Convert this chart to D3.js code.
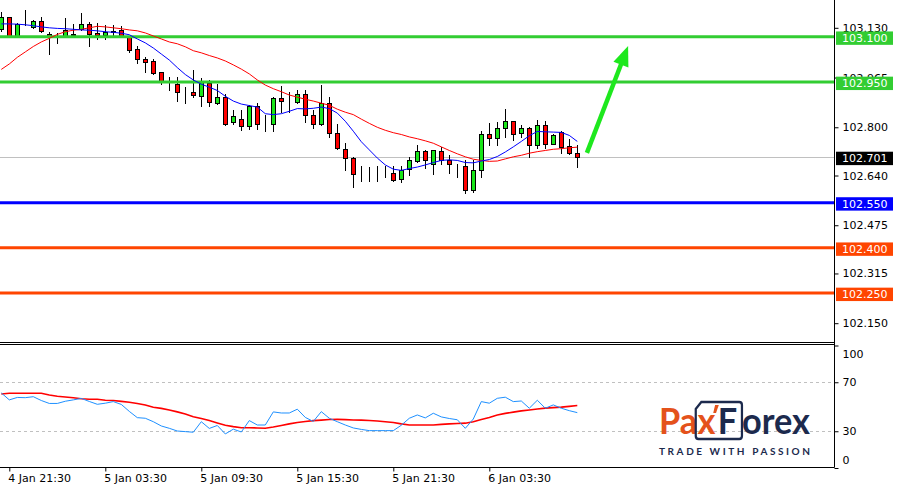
<!DOCTYPE html>
<html><head><meta charset="utf-8">
<script src="https://cdn.jsdelivr.net/npm/d3@7"></script>
<style>body{margin:0;background:#fff} svg{display:block}</style>
</head><body>
<svg id="c" width="898" height="485"></svg>
<script>
// ---------- DATA (30-minute candles, 4 Jan 21:00 -> 6 Jan 09:00) ----------
const open = [103.126,103.166,103.104,103.142,103.134,103.152,103.110,103.107,103.104,103.108,
103.126,103.143,103.114,103.106,103.115,103.122,103.100,103.059,103.026,103.019,
102.983,102.955,102.945,102.915,102.916,102.904,102.946,102.879,102.902,102.816,
102.829,102.804,102.870,102.812,102.812,102.896,102.890,102.885,102.912,102.840,
102.810,102.879,102.782,102.729,102.699,102.643,102.643,102.643,102.649,102.649,
102.629,102.662,102.688,102.721,102.677,102.720,102.692,102.679,102.673,102.592,
102.659,102.777,102.765,102.796,102.820,102.782,102.796,102.742,102.807,102.746,
102.784,102.737,102.715];
const high = [103.183,103.167,103.145,103.190,103.157,103.166,103.117,103.113,103.163,103.142,
103.179,103.150,103.146,103.140,103.140,103.137,103.103,103.068,103.034,103.026,
102.985,102.967,102.967,102.934,102.990,102.962,102.957,102.943,102.912,102.857,
102.857,102.873,102.879,102.842,102.899,102.937,102.917,102.923,102.923,102.857,
102.940,102.901,102.812,102.748,102.703,102.670,102.668,102.670,102.673,102.672,
102.670,102.702,102.740,102.723,102.725,102.733,102.708,102.679,102.690,102.690,
102.788,102.813,102.818,102.859,102.822,102.807,102.801,102.823,102.820,102.778,
102.787,102.762,102.742];
const low = [103.121,103.103,103.103,103.138,103.128,103.117,103.042,103.079,103.103,103.100,
103.123,103.071,103.092,103.092,103.104,103.103,103.051,103.012,102.984,102.978,
102.943,102.922,102.888,102.881,102.901,102.870,102.870,102.877,102.809,102.812,
102.792,102.795,102.793,102.788,102.788,102.851,102.851,102.881,102.818,102.799,
102.807,102.768,102.729,102.659,102.601,102.623,102.623,102.623,102.634,102.622,
102.618,102.642,102.684,102.665,102.644,102.679,102.648,102.634,102.583,102.584,
102.634,102.740,102.740,102.767,102.757,102.768,102.702,102.732,102.732,102.743,
102.713,102.712,102.668];
const close = [103.166,103.104,103.143,103.141,103.152,103.118,103.103,103.105,103.123,103.105,
103.143,103.111,103.106,103.117,103.121,103.104,103.058,103.026,103.018,102.981,
102.951,102.953,102.918,102.914,102.906,102.951,102.885,102.902,102.812,102.836,
102.804,102.870,102.811,102.811,102.897,102.886,102.889,102.912,102.840,102.810,
102.879,102.782,102.732,102.699,102.646,102.642,102.642,102.642,102.648,102.626,
102.659,102.690,102.722,102.691,102.723,102.692,102.679,102.678,102.592,102.659,
102.777,102.766,102.796,102.820,102.777,102.796,102.742,102.807,102.746,102.776,
102.734,102.716,102.701];
// moving averages
const maFast = [103.143,103.143,103.142,103.140,103.137,103.133,103.130,103.128,103.127,103.125,
103.123,103.122,103.120,103.117,103.115,103.112,103.107,103.093,103.080,103.063,
103.043,103.023,102.998,102.975,102.957,102.943,102.933,102.922,102.903,102.887,
102.877,102.872,102.867,102.845,102.842,102.845,102.853,102.862,102.861,102.863,
102.867,102.862,102.847,102.820,102.787,102.752,102.725,102.698,102.675,102.661,
102.657,102.663,102.668,102.675,102.683,102.690,102.692,102.690,102.683,102.682,
102.688,102.693,102.703,102.718,102.735,102.753,102.772,102.786,102.785,102.784,
102.783,102.773,102.753];
const maSlow = [102.992,103.010,103.032,103.050,103.068,103.083,103.095,103.108,103.117,103.122,
103.125,103.130,103.135,103.133,103.130,103.127,103.123,103.120,103.113,103.103,
103.093,103.083,103.077,103.067,103.054,103.047,103.038,103.030,103.020,103.007,
102.993,102.977,102.957,102.940,102.928,102.918,102.907,102.900,102.893,102.887,
102.880,102.873,102.860,102.850,102.842,102.827,102.813,102.800,102.790,102.782,
102.776,102.768,102.762,102.755,102.747,102.735,102.723,102.712,102.702,102.694,
102.690,102.687,102.688,102.695,102.702,102.707,102.714,102.719,102.723,102.727,
102.729,102.732,102.734];
// oscillator (lower panel)
const oscMain = [61.3,55.6,57.6,57.4,58.2,55.1,52.7,52.7,54.5,55.6,
56.8,54.3,52.0,52.9,54.2,51.9,46.2,41.1,40.6,37.8,
34.3,32.4,30.2,29.7,29.2,37.8,32.3,34.7,27.8,31.7,
29.4,38.7,35.1,35.1,45.8,44.9,44.9,48.0,41.3,38.0,
46.0,40.6,37.8,35.1,32.7,31.5,30.5,30.5,30.5,30.5,
34.9,40.6,43.3,40.9,44.7,41.7,40.4,39.4,32.4,40.0,
54.2,52.9,56.9,57.8,54.2,54.7,48.8,55.3,48.8,51.5,
48.8,46.8,45.2];
const oscSignal = [60.4,61.0,61.0,61.0,61.0,61.0,59.6,58.6,58.0,57.3,
56.5,56.1,56.1,55.3,55.1,54.4,53.7,52.7,51.5,49.6,
48.7,47.4,45.8,44.1,41.9,40.4,38.7,36.8,34.9,33.8,
32.9,32.9,32.7,32.5,33.5,34.7,36.0,37.2,38.0,38.7,
39.1,39.6,39.7,39.5,39.2,39.1,38.8,38.4,37.8,37.1,
36.0,35.1,35.1,35.1,35.1,35.6,36.0,36.3,36.6,37.8,
39.6,41.3,43.3,44.6,45.6,46.6,47.4,48.2,48.9,49.3,
49.7,50.3,51.0];
const priceTicks = [103.130,102.965,102.800,102.640,102.475,102.315,102.150];
const oscTicks = [100,70,30,0];
const oscLevels = [70,30];
const timeTickIndex = [1,13,25,37,49,61];
const timeTickLabels = ["4 Jan 21:30","5 Jan 03:30","5 Jan 09:30","5 Jan 15:30","5 Jan 21:30","6 Jan 03:30"];
const levelPrices = [103.100,102.950,102.550,102.400,102.250];
const levelKinds = ["target","target","pivot","support","support"];
const lastPrice = 102.701;
const arrowFrom = [73.2,102.715];   // [candle index, price]
const arrowTo = [78.35,103.070];

// ---------- STYLE ----------
const KIND_COLOR = {target:"#32cd32", pivot:"#0000ff", support:"#ff4500"};
const BULL = "#19e619", BEAR = "#ff0000";
const FONT = "DejaVu Sans";

const svg = d3.select("#c");
const W = 898, H = 485, AX = 834.5;
const mainBottom = 342.5, oscTop = 344.5, oscBottom = 467.5;

const x = d3.scaleLinear().domain([0,72]).range([1.3,577.3]);
const y = d3.scaleLinear().domain([102.150,103.130]).range([323.2,27.8]);
const yo = d3.scaleLinear().domain([0,100]).range([468,345.5]);

svg.append("rect").attr("width",W).attr("height",H).attr("fill","#fff");

svg.append("defs").append("clipPath").attr("id","mainClip")
  .append("rect").attr("x",0).attr("y",0).attr("width",834).attr("height",342);
svg.select("defs").append("clipPath").attr("id","oscClip")
  .append("rect").attr("x",0).attr("y",345).attr("width",834).attr("height",122);

const main = svg.append("g").attr("clip-path","url(#mainClip)");

// current price line
main.append("line").attr("x1",0).attr("x2",834)
  .attr("y1",Math.round(y(lastPrice))+0.5).attr("y2",Math.round(y(lastPrice))+0.5)
  .attr("stroke","#c0c0c0").attr("stroke-width",1);

// candles
const idx = d3.range(open.length);
const cg = main.append("g");
idx.forEach(i=>{
  const cx = Math.round(x(i));
  cg.append("line").attr("x1",cx+0.5).attr("x2",cx+0.5)
    .attr("y1",Math.round(y(high[i]))).attr("y2",Math.round(y(low[i]))+1)
    .attr("stroke","#000").attr("stroke-width",1);
  const top = Math.round(y(Math.max(open[i],close[i])))+0.5;
  const bot = Math.round(y(Math.min(open[i],close[i])))+0.5;
  cg.append("rect").attr("x",cx-2+0.5).attr("width",4)
    .attr("y",top).attr("height",Math.max(0,bot-top))
    .attr("fill", close[i]>open[i]?BULL:BEAR)
    .attr("stroke","#000").attr("stroke-width",1);
});

// horizontal levels
levelPrices.forEach((p,j)=>{
  main.append("line").attr("x1",0).attr("x2",836)
    .attr("y1",y(p)).attr("y2",y(p))
    .attr("stroke",KIND_COLOR[levelKinds[j]]).attr("stroke-width",3);
});

// moving averages
const ln = d3.line().x((d,i)=>x(i)).y(d=>y(d));
main.append("path").datum(maSlow).attr("d",ln).attr("fill","none").attr("stroke","#ff0000").attr("stroke-width",1);
main.append("path").datum(maFast).attr("d",ln).attr("fill","none").attr("stroke","#0000ff").attr("stroke-width",1);

// arrow
(function(){
  const x0=x(arrowFrom[0]), y0=y(arrowFrom[1]), x1=x(arrowTo[0]), y1=y(arrowTo[1]);
  const dx=x1-x0, dy=y1-y0, L=Math.hypot(dx,dy), ux=dx/L, uy=dy/L, px=-uy, py=ux;
  const hl=20, hw=8;
  const bx=x1-ux*hl, by=y1-uy*hl;
  main.append("line").attr("x1",x0).attr("y1",y0).attr("x2",bx+ux*2).attr("y2",by+uy*2)
    .attr("stroke","#1ee81e").attr("stroke-width",4.5);
  main.append("path").attr("d",`M${x1},${y1}L${bx+px*hw},${by+py*hw}L${bx-px*hw},${by-py*hw}Z`)
    .attr("fill","#1ee81e");
})();

// panel borders
svg.append("line").attr("x1",0).attr("x2",AX).attr("y1",mainBottom).attr("y2",mainBottom).attr("stroke","#000");
svg.append("line").attr("x1",0).attr("x2",AX).attr("y1",oscTop).attr("y2",oscTop).attr("stroke","#000");
svg.append("line").attr("x1",0).attr("x2",AX).attr("y1",oscBottom).attr("y2",oscBottom).attr("stroke","#000");
svg.append("line").attr("x1",AX).attr("x2",AX).attr("y1",0).attr("y2",oscBottom).attr("stroke","#000");

// price axis
const pAxis = d3.axisRight(y).tickValues(priceTicks).tickFormat(d3.format(".3f")).tickSize(4).tickPadding(4);
const pg = svg.append("g").attr("transform",`translate(${AX},0)`).call(pAxis);
pg.select(".domain").remove();
pg.selectAll("text").attr("font-family",FONT).attr("font-size",11).attr("fill","#000");
pg.selectAll("line").attr("stroke","#000");

// price labels boxes
function priceBox(p, bg){
  const cy = y(p)+1.3;
  svg.append("rect").attr("x",836).attr("y",cy-6.7).attr("width",57).attr("height",13.4).attr("fill",bg);
  svg.append("text").attr("x",842).attr("y",cy).attr("dy","0.36em")
    .attr("font-family",FONT).attr("font-size",11).attr("fill","#fff").text(d3.format(".3f")(p));
}
levelPrices.forEach((p,j)=>priceBox(p, KIND_COLOR[levelKinds[j]]));
priceBox(lastPrice, "#000");

// oscillator panel
const og = svg.append("g").attr("clip-path","url(#oscClip)");
oscLevels.forEach(v=>{
  og.append("line").attr("x1",0).attr("x2",834).attr("y1",Math.round(yo(v))+0.5).attr("y2",Math.round(yo(v))+0.5)
    .attr("stroke","#c0c0c0").attr("stroke-dasharray","3,3");
});
const lo = d3.line().x((d,i)=>x(i)).y(d=>yo(d));
og.append("path").datum(oscSignal).attr("d",lo).attr("fill","none").attr("stroke","#ff0000").attr("stroke-width",1.6);
og.append("path").datum(oscMain).attr("d",lo).attr("fill","none").attr("stroke","#1e90ff").attr("stroke-width",1);

const oAxis = d3.axisRight(yo).tickValues(oscTicks).tickSize(4).tickPadding(4);
const oga = svg.append("g").attr("transform",`translate(${AX},0)`).call(oAxis);
oga.select(".domain").remove();
oga.selectAll("line").attr("stroke","#000");
oga.selectAll("text").attr("font-family",FONT).attr("font-size",11).attr("fill","#000")
  .attr("transform",d=> d===100?"translate(0,8)": d===0?"translate(0,-8)":null);

// time axis
const tAxis = d3.axisBottom(x).tickValues(timeTickIndex).tickFormat((d,i)=>timeTickLabels[i]).tickSize(4).tickPadding(3);
const tg = svg.append("g").attr("transform",`translate(0,${oscBottom})`).call(tAxis);
tg.select(".domain").remove();
tg.selectAll("line").attr("stroke","#000");
tg.selectAll("text").attr("font-family",FONT).attr("font-size",11).attr("fill","#000")
  .attr("text-anchor","start").attr("dx",-1.5);

// logo
(function(){
  const outer = svg.append("g");
  const g = outer.append("g");
  const ORANGE="#e4521b", NAVY="#1c2a4d";
  const fs=37, base=434, LF="Lato";
  const X0=657;
  let cx=X0;
  const t1=g.append("text").attr("x",cx).attr("y",base).attr("font-family",LF).attr("font-weight",700)
    .attr("font-size",fs).attr("fill",ORANGE).text("Pa");
  cx+=t1.node().getComputedTextLength();
  const t2=g.append("text").attr("x",cx+0.5).attr("y",base).attr("font-family",LF).attr("font-weight",700)
    .attr("font-size",fs).attr("fill",ORANGE).text("x");
  const xw=t2.node().getComputedTextLength();
  const bx0=cx-1.5;
  cx+=xw+3;
  const t3=g.append("text").attr("x",cx).attr("y",base).attr("font-family",LF).attr("font-weight",700)
    .attr("font-size",fs).attr("fill",NAVY).text("F");
  const fw=t3.node().getComputedTextLength();
  g.append("path").attr("d",`M${bx0+6},402 L${cx+fw+2},402 Q${cx+fw+5},402 ${cx+fw+5},405 L${cx+fw+5},436 Q${cx+fw+5},439 ${cx+fw+2},439 L${bx0+3},439 Q${bx0},439 ${bx0},436 L${bx0},409 Z`)
    .attr("fill","none").attr("stroke",NAVY).attr("stroke-width",2.4);
  g.append("path").attr("d",`M${cx-3},405 L${cx+1},405 L${cx-2},413 L${cx-5},413 Z`).attr("fill",ORANGE);
  cx+=fw+5;
  const t4=g.append("text").attr("x",cx).attr("y",base).attr("font-family",LF).attr("font-weight",700)
    .attr("font-size",fs).attr("fill",NAVY).text("orex");
  const right = cx + t4.node().getComputedTextLength();
  const s = 151/(right-X0);
  g.attr("transform",`translate(659,0) scale(${s},1) translate(${-X0},0)`);
  outer.append("text").attr("x",659).attr("y",455).attr("font-family",LF).attr("font-weight",700)
    .attr("font-size",10).attr("fill",NAVY).attr("textLength",151).attr("lengthAdjust","spacing")
    .text("TRADE WITH PASSION");
})();
</script>
</body></html>
